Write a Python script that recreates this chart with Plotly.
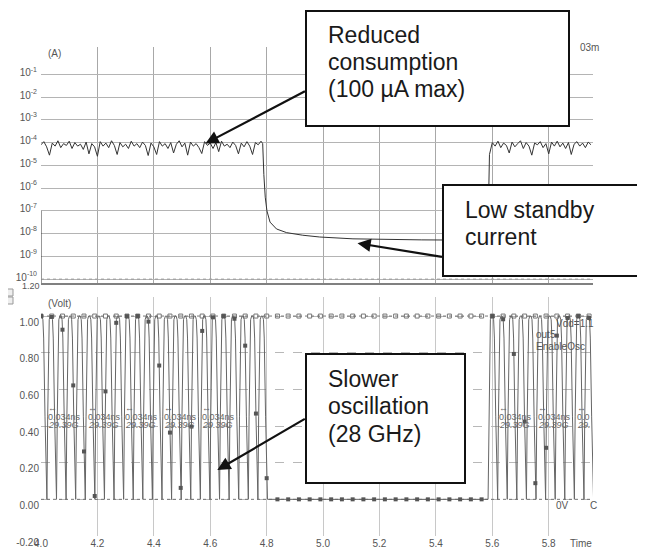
import numpy as np
import plotly.graph_objects as go

W, H = 645, 548
OFF = 8                      # page offset of the plot div (body margin)
PL, PR, PT, PB = 41, 593, 47, 536   # plot area in page pixels
ML, MT = PL - OFF, PT - OFF
MR, MB = W - (PR - OFF), H - (PB - OFF)

# ---------------- data ----------------
time_ticks = [4.0, 4.2, 4.4, 4.6, 4.8, 5.0, 5.2, 5.4, 5.6, 5.8]
time_tick_labels = ["4.0", "4.2", "4.4", "4.6", "4.8", "5.0", "5.2", "5.4", "5.6", "5.8"]
time_range = [4.0, 5.957]

current_ticks = [1e-1, 1e-2, 1e-3, 1e-4, 1e-5, 1e-6, 1e-7, 1e-8, 1e-9, 1e-10]
current_tick_labels = ["10<sup>-1</sup>", "10<sup>-2</sup>", "10<sup>-3</sup>", "10<sup>-4</sup>",
                       "10<sup>-5</sup>", "10<sup>-6</sup>", "10<sup>-7</sup>", "10<sup>-8</sup>",
                       "10<sup>-9</sup>", "10<sup>-10</sup>"]
current_log_range = [-10.17, 0.2]

volt_ticks = [-0.2, 0.0, 0.2, 0.4, 0.6, 0.8, 1.0]
volt_tick_labels = ["-0.20", "0.00", "0.20", "0.40", "0.60", "0.80", "1.00"]
volt_range = [-0.2, 1.104]

# supply current, active phase 1 (sampled every 0.01 ns from 4.00 ns), in uA
sample_step = 0.01
active1_start = 4.00
active1_uA = [80, 110, 65, 28, 95, 70, 120, 60, 90, 75, 115, 55, 100, 70, 85, 50, 105, 32, 90, 65,
              25, 110, 70, 95, 60, 120, 75, 30, 100, 65, 85, 55, 115, 70, 90, 60, 105, 75, 27, 95,
              65, 30, 110, 70, 90, 55, 100, 35, 85, 120, 65, 95, 28, 105, 70, 90, 60, 33, 110, 75,
              95, 55, 100, 40, 115, 70, 85, 60, 105, 75, 32, 95, 65, 110, 70, 30, 100, 80, 115]
# standby phase (A)
standby_t = [4.786, 4.790, 4.795, 4.801, 4.812, 4.835, 4.871, 4.928, 4.988, 5.106, 5.225, 5.350, 5.480, 5.584]
standby_A = [9e-5, 4e-6, 4e-7, 1e-7, 3.2e-8, 1.6e-8, 1.1e-8, 8.5e-9, 7.1e-9, 5.9e-9, 5.5e-9, 5.3e-9, 5.2e-9, 5.1e-9]
# active phase 2 (uA)
active2_start = 5.59
active2_uA = [30, 100, 70, 115, 60, 95, 75, 35, 105, 65, 90, 120, 55, 100, 70, 28, 95, 80, 110, 60,
              90, 32, 105, 70, 115, 65, 95, 55, 100, 30, 85, 110, 70, 95, 60, 105, 80]
# start-up artefact at t = 4.0
startup_A = [1e-7, 1e-11]

# oscillator output out5: times of the V-shaped minima (ns), period 0.034 ns
period_ns = 0.034
burst1_cycle_starts = [3.987, 4.021, 4.055, 4.089, 4.123, 4.157, 4.191, 4.225, 4.259, 4.293, 4.327, 4.361,
                       4.395, 4.429, 4.463, 4.497, 4.531, 4.565, 4.599, 4.633, 4.667, 4.701, 4.735, 4.769]
burst2_cycle_starts = [5.585, 5.619, 5.653, 5.687, 5.721, 5.755, 5.789, 5.823, 5.857, 5.891, 5.925, 5.959]
cycle_phase = [0.00, 0.08, 0.16, 0.24, 0.35, 0.48, 0.58, 0.66, 0.80, 0.92]
cycle_volt = [0.00, 0.45, 0.88, 0.98, 1.00, 1.00, 0.98, 0.88, 0.45, 0.10]
low_level = 0.0
vdd_level = 1.0
marker_step_ns = 0.0381

# period / frequency measurements
meas_t = [4.023, 4.163, 4.296, 4.432, 4.567, 5.620, 5.758, 5.897]
meas_period = ["0.034ns"] * 7 + ["0.0"]
meas_freq = ["29.39G"] * 7 + ["29."]

# ---------------- build series ----------------
t1 = active1_start + sample_step * np.arange(len(active1_uA))
t2 = active2_start + sample_step * np.arange(len(active2_uA))
cur_t = np.concatenate([t1, standby_t, t2])
cur_I = np.concatenate([np.array(active1_uA) * 1e-6, standby_A, np.array(active2_uA) * 1e-6])

def burst(starts):
    ts, vs = [], []
    for s in starts:
        ts += [s + p * period_ns for p in cycle_phase]
        vs += cycle_volt
    return ts, vs

b1t, b1v = burst(burst1_cycle_starts)
b2t, b2v = burst(burst2_cycle_starts)
out_t = np.array(b1t + [burst1_cycle_starts[-1] + period_ns] + b2t)
out_v = np.array(b1v + [low_level] + b2v)

mk_t = np.arange(time_range[0], time_range[1], marker_step_ns)
mk_v = np.interp(mk_t, out_t, out_v)

# ---------------- figure ----------------
fig = go.Figure()
trace_col = "#333333"
fig.add_trace(go.Scatter(x=cur_t, y=cur_I, mode="lines", line=dict(color=trace_col, width=1),
                         xaxis="x", yaxis="y"))
fig.add_trace(go.Scatter(x=[time_range[0], time_range[0]], y=startup_A, mode="lines",
                         line=dict(color=trace_col, width=1), xaxis="x", yaxis="y"))
fig.add_trace(go.Scatter(x=time_range, y=[1e-10, 1e-10], mode="lines",
                         line=dict(color="#999999", width=1, dash="dot"), xaxis="x", yaxis="y"))

fig.add_trace(go.Scatter(x=time_range, y=[vdd_level, vdd_level], mode="lines",
                         line=dict(color="#777777", width=1, dash="dot"), xaxis="x2", yaxis="y2"))
fig.add_trace(go.Scatter(x=mk_t, y=[vdd_level] * len(mk_t), mode="markers",
                         marker=dict(symbol="square-open", size=4, color="#777777", line=dict(width=1)),
                         xaxis="x2", yaxis="y2"))
fig.add_trace(go.Scatter(x=time_range, y=[low_level, low_level], mode="lines",
                         line=dict(color="#777777", width=1, dash="dot"), xaxis="x2", yaxis="y2"))
fig.add_trace(go.Scatter(x=out_t, y=out_v, mode="lines", line=dict(color="#666666", width=1),
                         xaxis="x2", yaxis="y2"))
fig.add_trace(go.Scatter(x=mk_t, y=mk_v, mode="markers",
                         marker=dict(symbol="square", size=4, color="#555555"),
                         xaxis="x2", yaxis="y2"))

tickfont = dict(family="Liberation Sans, Arial", size=10, color="#555555")
top_dom = [(PB - 283) / (PB - PT), 1.0]
bot_dom = [0.0, (PB - 297) / (PB - PT)]

fig.update_layout(
    width=W, height=H, margin=dict(l=ML, r=MR, t=MT, b=MB, autoexpand=False),
    paper_bgcolor="white", plot_bgcolor="white", showlegend=False,
    xaxis=dict(domain=[0, 1], anchor="y", range=time_range, tickvals=time_ticks, showticklabels=False,
               showgrid=True, gridcolor="#a8a8a8", gridwidth=1, zeroline=False, ticks="",
               showline=True, linecolor="#808080", linewidth=1.5, automargin=False),
    yaxis=dict(domain=top_dom, anchor="x", type="log", range=current_log_range, tickvals=current_ticks,
               ticktext=current_tick_labels, tickfont=tickfont, showgrid=True, gridcolor="#b4b4b4",
               zeroline=False, ticks="", ticklabelshift=-2, ticklabelstandoff=3, automargin=False),
    xaxis2=dict(domain=[0, 1], anchor="y2", range=time_range, tickvals=time_ticks, ticktext=time_tick_labels,
                tickfont=tickfont, showgrid=True, gridcolor="#c8c8c8", zeroline=False, ticks="",
                automargin=False),
    yaxis2=dict(domain=bot_dom, anchor="x2", range=volt_range, tickvals=volt_ticks, ticktext=volt_tick_labels,
                tickfont=tickfont, showgrid=True, gridcolor="#b8b8b8", griddash="dash", zeroline=False,
                ticks="", ticklabelshift=6, ticklabelstandoff=1, automargin=False),
)

def px(x):
    return (x - PL) / (PR - PL)

def py(y):
    return (PB - y) / (PB - PT)

ann = []
small = dict(family="Liberation Sans, Arial", size=10, color="#555555")

def label(x, y, text, anchor="left", font=small):
    ann.append(dict(x=px(x), y=py(y), xref="paper", yref="paper", text=text, showarrow=False,
                    xanchor=anchor, yanchor="middle", font=font))

label(46, 53, "(A)")
label(578, 48, "03m")
label(46, 303, "(Volt)")
label(554, 323, "Vdd=1.1")
label(534, 335, "out5")
label(534, 346, "EnableOsc")
label(554, 505, "0V")
label(588, 505, "C")
label(568, 543, "Time")
label(42, 286, "1.20", anchor="right", font=dict(family="Liberation Sans, Arial", size=9, color="#555555"))

# measurement labels (data coordinates)
mfont = dict(family="Liberation Sans, Arial", size=9, color="#666666")
for t, a, b in zip(meas_t, meas_period, meas_freq):
    ann.append(dict(x=t, y=0.497, xref="x2", yref="y2", text="\u2194", showarrow=False,
                    xanchor="left", yanchor="middle", font=mfont, borderpad=0))
    ann.append(dict(x=t, y=0.450, xref="x2", yref="y2", text=a, showarrow=False,
                    xanchor="left", yanchor="middle", font=mfont, borderpad=0))
    ann.append(dict(x=t, y=0.405, xref="x2", yref="y2", text="<i>" + b + "</i>", showarrow=False,
                    xanchor="left", yanchor="middle", font=mfont, borderpad=0))

# callout boxes
shapes = []
def box(x0, y0, x1, y1):
    shapes.append(dict(type="rect", xref="paper", yref="paper", x0=px(x0), x1=px(x1), y0=py(y1), y1=py(y0),
                       line=dict(color="#111111", width=2), fillcolor="white", layer="above"))

big = dict(family="Liberation Sans, Arial", size=23, color="#1a1a1a")
box(306, 11, 569, 126)
label(326, 35, "Reduced", font=big)
label(326, 62, "consumption", font=big)
label(326, 89, "(100 \u00b5A max)", font=big)

box(443, 185, 646, 276)
label(463, 210, "Low standby", font=big)
label(463, 237, "current", font=big)

box(306, 354, 465, 483)
label(326, 379, "Slower", font=big)
label(326, 406, "oscillation", font=big)
label(326, 434, "(28 GHz)", font=big)

# arrows
arr = dict(showarrow=True, arrowhead=2, arrowsize=1.2, arrowwidth=2.2, arrowcolor="#111111", text="",
           standoff=0)
ann.append(dict(x=4.583, y=-4.04, xref="x", yref="y", ax=101, ay=-53, **arr))
ann.append(dict(x=5.122, y=-8.42, xref="x", yref="y", ax=86, ay=14, **arr))
ann.append(dict(x=4.625, y=0.16, xref="x2", yref="y2", ax=89, ay=-52, **arr))

# small scroll buttons between panels
for y0 in (289, 297):
    shapes.append(dict(type="rect", xref="paper", yref="paper", x0=px(5), x1=px(13), y0=py(y0 + 7), y1=py(y0),
                       line=dict(color="#999999", width=1), fillcolor="#eeeeee"))

fig.update_layout(annotations=ann, shapes=shapes)
fig.write_html("out.html")
